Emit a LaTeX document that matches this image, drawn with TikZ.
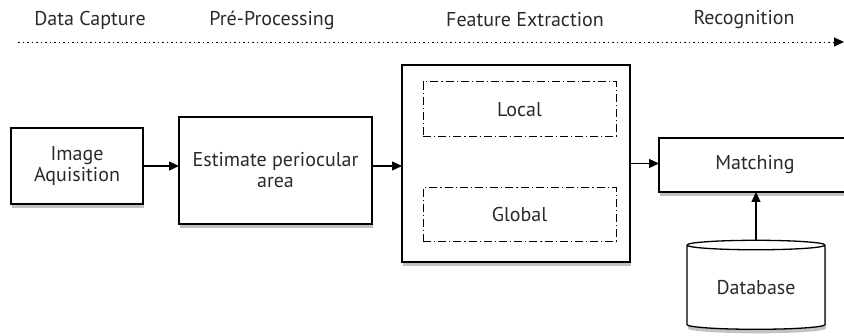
\documentclass[tikz,border=0pt]{standalone}
\usepackage{fontspec}
\setmainfont{PT Sans}
\usetikzlibrary{arrows.meta,shapes.geometric,shadows}
\definecolor{FlowText}{HTML}{2A2A2A}
\definecolor{FlowShadow}{HTML}{666666}

\begin{document}
\begin{tikzpicture}[x=1pt, y=-1pt, >={Triangle[length=10pt,width=9pt]},
    stage/.style={font=\fontsize{20}{21}\selectfont, text=FlowText},
    block/.style={draw, line width=1.3pt, fill=white, align=center,
        inner sep=0pt, outer sep=0pt,
        font=\fontsize{20}{21}\selectfont, text=FlowText,
        drop shadow={shadow xshift=1pt, shadow yshift=-4pt,
            fill=FlowShadow, opacity=0.4}},
    part/.style={draw, line width=1pt, inner sep=0pt, outer sep=0pt,
        dash pattern=on 8pt off 3pt on 1.2pt off 3pt,
        font=\fontsize{20}{21}\selectfont, text=FlowText},
    link/.style={->, line width=1.3pt}]

    \useasboundingbox (0,0) rectangle (844,336);

    % ========== STAGES ==========
    \node[stage] (capture) at (90,20) {Data Capture};
    \node[stage] (prepro) at (272,20) {Pré-Processing};
    \node[stage] (extract) at (525,20) {Feature Extraction};
    \node[stage] (recog) at (744,20) {Recognition};

    % Timeline
    \coordinate (tl) at (18,42);
    \coordinate (tr) at (844,42);
    \draw[->, line width=0.9pt, dash pattern=on 1.5pt off 3pt] (tl) -- (tr);

    % ========== BLOCKS ==========
    \node[block, minimum width=132pt, minimum height=76pt] (img) at (77,166)
        {Image\\Aquisition};
    \node[block, minimum width=193pt, minimum height=107pt] (est) at (275.5,170.5)
        {Estimate periocular\\area};
    \node[block, minimum width=228pt, minimum height=197pt] (feat) at (516,163.5) {};
    \node[part, minimum width=193pt, minimum height=55pt] (local) at (519.5,109.5) {Local};
    \node[part, minimum width=193pt, minimum height=54pt] (global) at (519.5,215) {Global};
    \node[block, minimum width=192pt, minimum height=54pt] (match) at (755,165) {Matching};
    \node[block, cylinder, shape border rotate=90, aspect=0.12,
        minimum width=138pt, minimum height=89pt] (db) at (756,287.5) {Database};

    % Connectors
    \draw[link] (img.east) -- (img.east -| est.west);
    \draw[link] (img.east -| est.east) -- (img.east -| feat.west);
    \draw[link] (feat.east) -- (feat.east -| match.west);
    \draw[link] (db.north) -- (db.north |- match.south);

\end{tikzpicture}
\end{document}
